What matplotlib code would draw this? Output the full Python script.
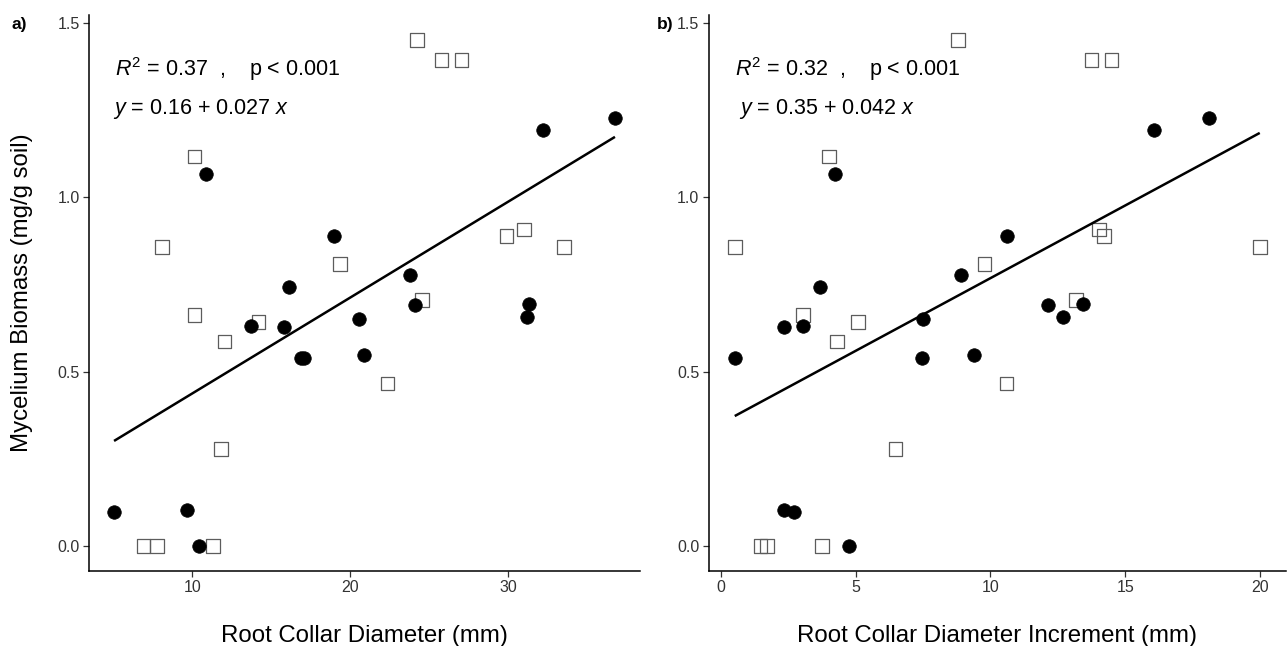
import numpy as np
import matplotlib
matplotlib.use("Agg")
import matplotlib.pyplot as plt

plt.rcParams['font.family'] = ['Liberation Sans', 'DejaVu Sans']
plt.rcParams['mathtext.fontset'] = 'custom'
plt.rcParams['mathtext.rm'] = 'Liberation Sans'
plt.rcParams['mathtext.it'] = 'Liberation Sans:italic'
plt.rcParams['mathtext.bf'] = 'Liberation Sans:bold'

# ---- data ----
# filled circles
circ_biomass = [0.096, 0.104, 0.0, 1.066, 0.631, 0.629, 0.743, 0.538, 0.540,
                0.890, 0.651, 0.548, 0.778, 0.692, 0.695, 0.658, 1.193, 1.229]
circ_rcd = [5.06, 9.70, 10.46, 10.89, 13.73, 15.82, 16.10, 16.88, 17.05,
            18.95, 20.53, 20.89, 23.80, 24.10, 31.30, 31.20, 32.20, 36.75]
circ_inc = [2.71, 2.35, 4.75, 4.25, 3.04, 2.35, 3.70, 0.52, 7.47,
            10.62, 7.50, 9.40, 8.90, 12.14, 13.45, 12.71, 16.06, 18.10]
# open squares
sq_biomass = [1.452, 1.117, 0.858, 0.857, 0.662, 0.643, 0.586, 0.277, 0.0, 0.0, 0.0,
              1.394, 1.394, 0.889, 0.908, 0.809, 0.705, 0.466]
sq_rcd = [24.22, 10.14, 8.08, 33.53, 10.14, 14.20, 12.04, 11.83, 6.92, 7.78, 11.33,
          25.77, 27.04, 29.90, 31.00, 19.37, 24.53, 22.36]
sq_inc = [8.80, 4.02, 0.52, 19.99, 3.05, 5.09, 4.31, 6.48, 1.48, 1.71, 3.76,
          13.75, 14.49, 14.21, 14.02, 9.79, 13.17, 10.60]

stats_a = [r'$\mathit{R}^{2}$ = 0.37  ,    p < 0.001', r'$\mathit{y}$ = 0.16 + 0.027 $\mathit{x}$']
stats_b = [r'$\mathit{R}^{2}$ = 0.32  ,    p < 0.001', r'$\mathit{y}$ = 0.35 + 0.042 $\mathit{x}$']

W, H = 1287, 646
fig = plt.figure(figsize=(W / 100, H / 100), dpi=100)

def px_ax(l, r, t, b):
    return fig.add_axes([l / W, (H - b) / H, (r - l) / W, (b - t) / H])

ax_a = px_ax(89, 640, 15.4, 571)
ax_b = px_ax(708.5, 1286, 15.4, 571)

def draw(ax, xc, xs, stats, xlabel, xticks, tlx, title_x):
    ax.scatter(xs, sq_biomass, marker='s', s=95, facecolors='none',
               edgecolors='#5c5c5c', linewidths=0.9, zorder=2)
    ax.scatter(xc, circ_biomass, marker='o', s=95, color='black',
               edgecolors='black', linewidths=0.5, zorder=3)
    allx = np.array(list(xc) + list(xs))
    ally = np.array(circ_biomass + sq_biomass)
    slope, icpt = np.polyfit(allx, ally, 1)
    xl = np.array([allx.min(), allx.max()])
    ax.plot(xl, icpt + slope * xl, color='black', lw=1.8, zorder=4,
            solid_capstyle='butt')
    rng = allx.max() - allx.min()
    ax.set_xlim(allx.min() - 0.05 * rng, allx.max() + 0.05 * rng)
    ax.set_ylim(-0.0725, 1.5225)
    ax.set_xticks(xticks)
    ax.set_yticks([0.0, 0.5, 1.0, 1.5])
    ax.set_yticklabels(['0.0', '0.5', '1.0', '1.5'])
    for s in ['top', 'right']:
        ax.spines[s].set_visible(False)
    for s in ['left', 'bottom']:
        ax.spines[s].set_linewidth(1.1)
    ax.tick_params(direction='out', length=4, width=0.9, color='#333333',
                   labelsize=11.5, labelcolor='#333333', pad=2.5)
    fig.text(title_x / W, 1 - 641.7 / H, xlabel, fontsize=17.3,
             ha='center', va='baseline')
    ax.text(tlx[0], 1.369, stats[0], fontsize=15.5, va='center', ha='left')
    ax.text(tlx[1], 1.254, stats[1], fontsize=15.5, va='center', ha='left')

draw(ax_a, circ_rcd, sq_rcd, stats_a, 'Root Collar Diameter (mm)', [10, 20, 30],
     (5.1, 5.0), 364.5)
draw(ax_b, circ_inc, sq_inc, stats_b, 'Root Collar Diameter Increment (mm)',
     [0, 5, 10, 15, 20], (0.52, 0.68), 997)

fig.text(22 / W, 1 - 293 / H, 'Mycelium Biomass (mg/g soil)', fontsize=17.3,
         rotation=90, ha='center', va='center')

fig.text(19.5 / W, 1 - 24 / H, 'a)', fontsize=12.5, fontweight='bold',
         va='center', ha='center')
fig.text(665 / W, 1 - 24 / H, 'b)', fontsize=12.5, fontweight='bold',
         va='center', ha='center')

fig.savefig('out.png', dpi=100)
